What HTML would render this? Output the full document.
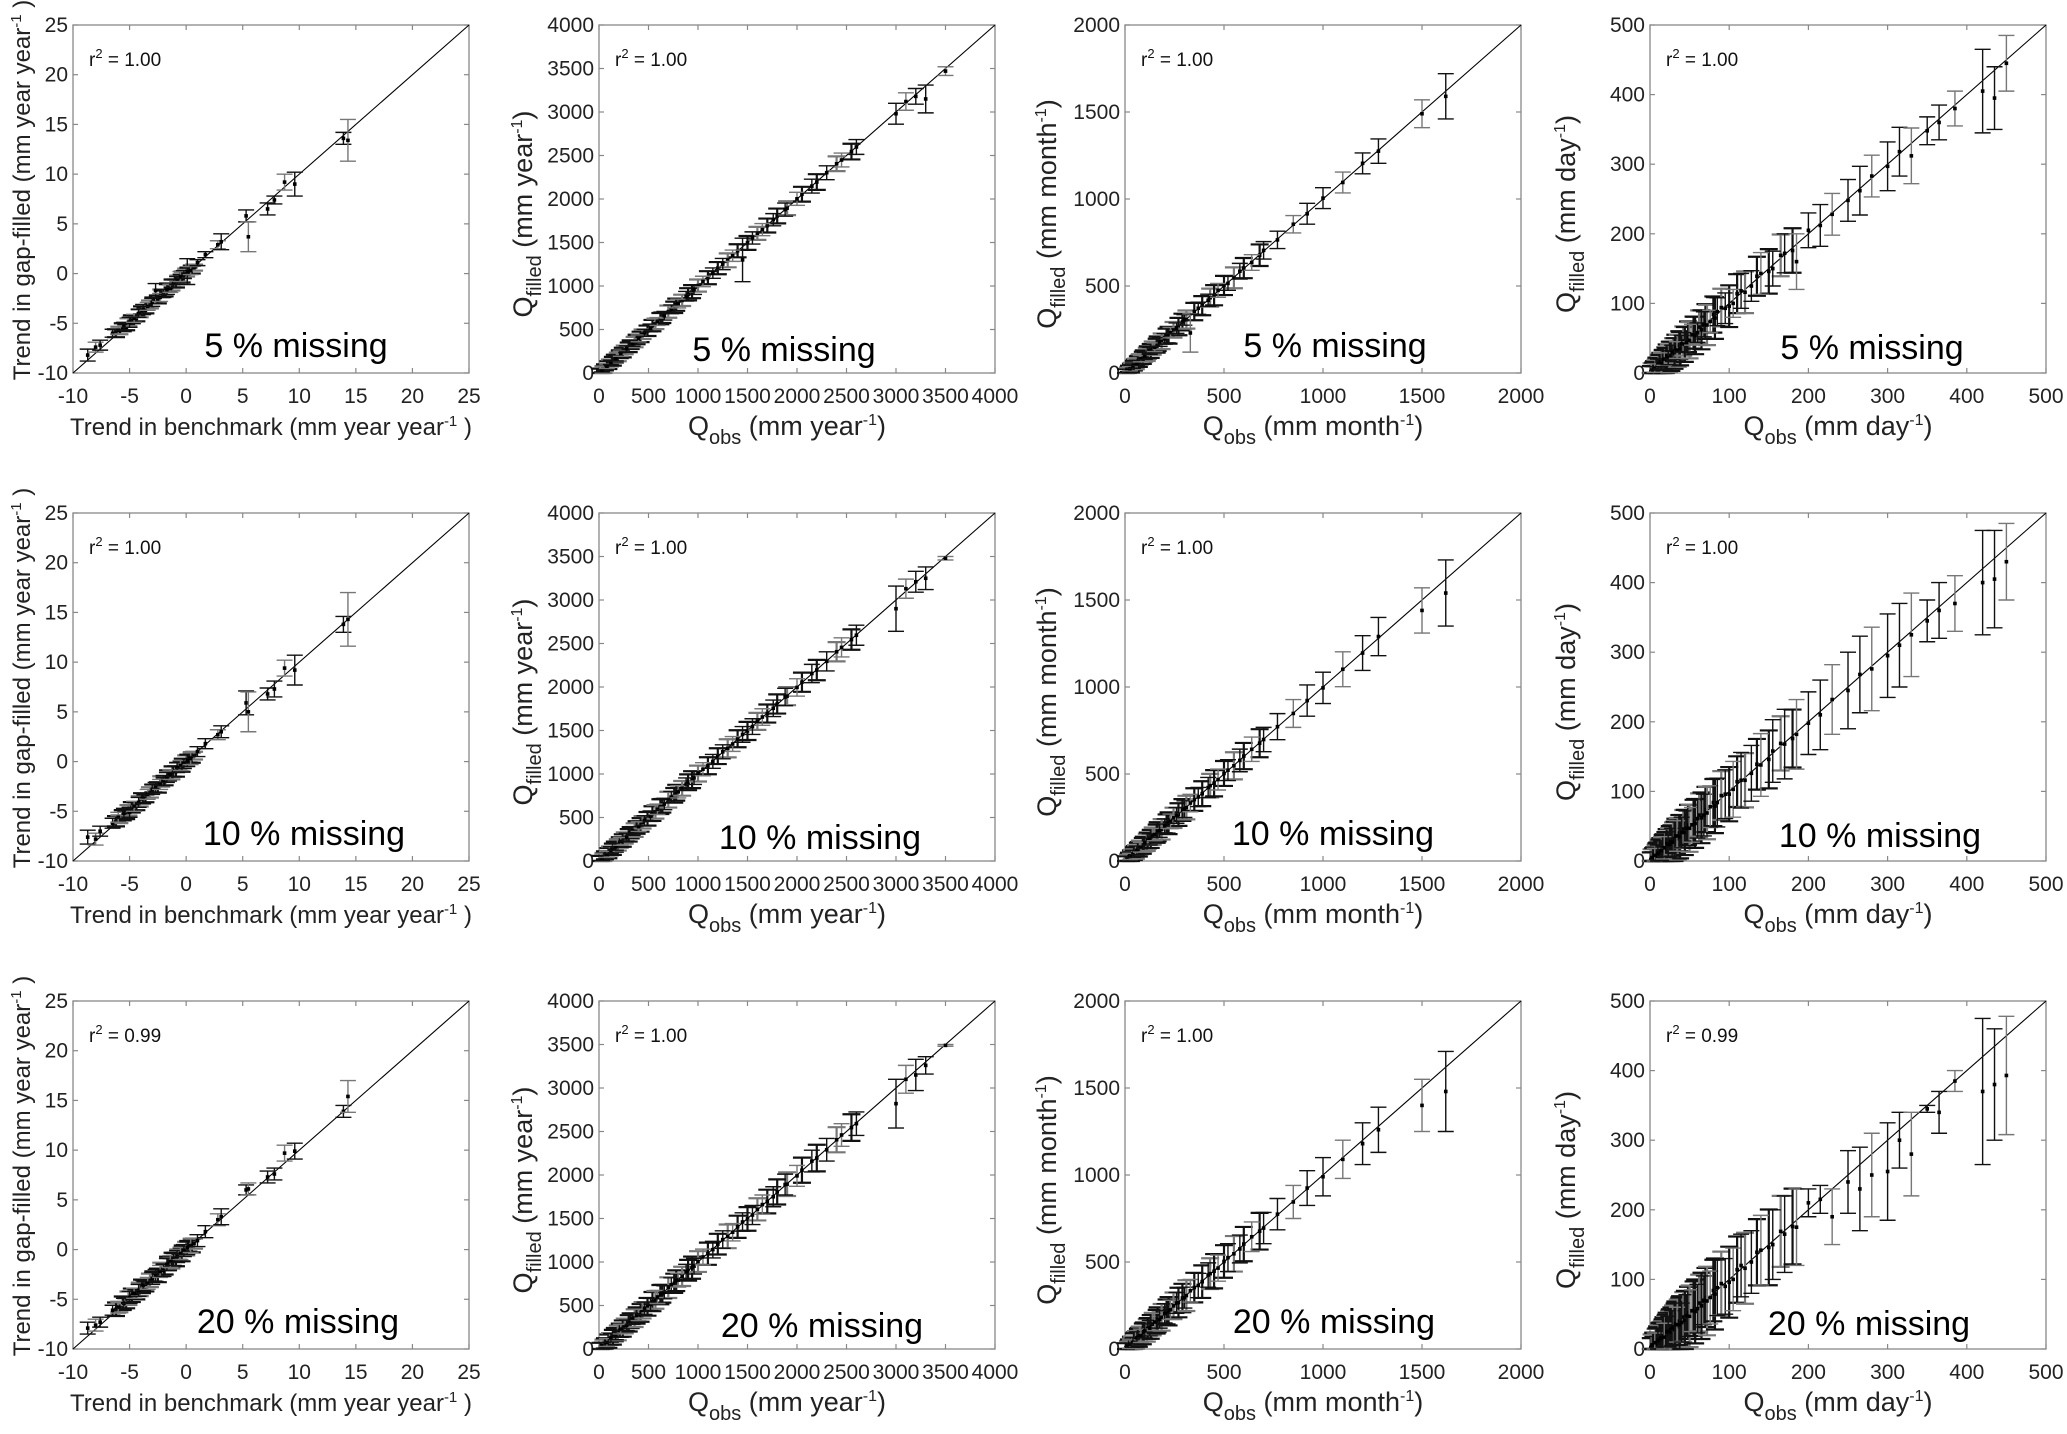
<!DOCTYPE html>
<html><head><meta charset="utf-8"><style>
html,body{margin:0;padding:0;background:#fff;}
svg{display:block;font-family:"Liberation Sans",Arial,sans-serif;}
</style></head><body>
<svg id="fig" width="2067" height="1434" viewBox="0 0 2067 1434"></svg>
<script>
// ---- data ----
const obsA=[-8.7,-8,-7.6,-6.5,-6,-5.5,-5,-4.6,-4.2,-3.8,-3.4,-3,-2.7,-2.3,-2,-1.7,-1.4,-1.1,-0.8,-0.5,-0.2,0.1,0.4,1,1.7,2.8,3.1,5.3,5.5,7.2,7.8,8.7,9.6,13.9,14.3];
const filA1=[-8.2,-7.4,-7.2,-6,-5.7,-5.3,-4.9,-4.5,-4,-3.6,-3.3,-2.9,-1.7,-2.4,-2,-1.6,-1.5,-1,-0.7,-0.3,-0.1,0.2,0.3,1.1,1.9,2.9,3.2,5.8,3.7,6.5,7.4,9.2,9,13.6,13.4];
const errA1=[0.6,0.5,0.5,0.4,0.4,0.4,0.5,0.4,0.4,0.5,0.4,0.4,0.7,0.4,0.4,0.5,0.4,0.4,0.4,0.5,0.4,1.3,0.4,0.3,0.3,0.4,0.8,0.6,1.5,0.6,0.4,0.8,1.2,0.6,2.1];
const filA2=[-7.6,-7.8,-7,-6.2,-5.6,-5.2,-5.1,-4.5,-4.1,-3.7,-3.3,-2.8,-2.6,-2.3,-1.9,-1.6,-1.3,-1,-0.6,-0.4,-0.2,0.1,0.3,1,1.8,2.7,3,5.9,5,6.8,7.3,9.4,9.2,13.8,14.3];
const errA2=[0.7,0.6,0.5,0.5,0.5,0.5,0.5,0.5,0.5,0.5,0.5,0.5,0.5,0.5,0.5,0.5,0.5,0.5,0.5,0.5,0.5,0.6,0.6,0.5,0.5,0.5,0.6,1.2,2,0.6,0.8,0.8,1.5,0.8,2.7];
const filA3=[-7.9,-7.6,-7.3,-6.1,-5.8,-5.4,-4.8,-4.4,-4.1,-3.6,-3.4,-2.9,-2.6,-2.2,-2.1,-1.5,-1.2,-1,-0.7,-0.4,-0.1,0.2,0.4,0.9,1.8,3,3.3,6,6.1,7.3,7.6,9.7,9.9,13.9,15.4];
const errA3=[0.6,0.6,0.5,0.5,0.6,0.5,0.6,0.5,0.6,0.5,0.6,0.6,0.6,0.6,0.6,0.6,0.6,0.6,0.6,0.6,0.6,0.7,0.7,0.6,0.6,0.6,0.8,0.5,0.6,0.6,0.6,0.8,0.8,0.6,1.6];
const denseObsA=[-6.2,-5.9,-5.6,-5.3,-5.1,-4.8,-4.4,-4.1,-3.9,-3.6,-3.2,-2.9,-2.5,-2.2,-1.9,-1.6,-1.3,-1.2,-0.9,-0.7,-0.4,-0.3,0,0.2,0.5,0.7];
const denseFilA=[-6,-5.8,-5.4,-5.4,-4.9,-4.6,-4.5,-4,-3.7,-3.7,-3.1,-2.7,-2.6,-2,-2,-1.4,-1.4,-1,-1,-0.5,-0.5,-0.1,0.1,0.3,0.4,0.6];
const denseErrA=[0.4,0.3,0.4,0.3,0.4,0.4,0.3,0.4,0.4,0.3,0.4,0.3,0.4,0.4,0.3,0.4,0.3,0.4,0.4,0.3,0.4,0.3,0.4,0.3,0.4,0.3];

const obsB=[30,80,120,170,220,280,340,400,460,520,590,660,730,800,880,960,1050,1150,1250,1350,1450,1550,1650,1760,1880,2000,2150,2300,2450,2600,3000,3100,3200,3300,3500];
const filB1=[32,78,122,168,222,278,342,398,462,518,592,658,732,798,882,958,1052,1148,1252,1348,1300,1552,1648,1762,1878,2002,2148,2302,2448,2598,2980,3120,3180,3150,3470];
const errB1=[20,25,25,30,30,35,35,40,40,45,45,50,50,50,55,55,60,60,65,65,250,70,70,70,75,75,80,80,80,85,120,100,90,160,50];
const filB2=[35,76,125,165,225,275,345,395,465,515,595,655,735,795,885,955,1055,1145,1255,1345,1455,1545,1655,1755,1885,1995,2155,2295,2455,2595,2900,3130,3210,3250,3480];
const errB2=[30,35,40,40,45,45,50,55,55,60,60,65,65,70,70,75,75,80,80,85,90,90,95,95,100,100,105,110,110,115,260,110,120,130,20];
const filB3=[38,74,128,162,228,272,348,392,468,512,598,652,738,792,888,952,1058,1142,1258,1342,1460,1540,1660,1750,1890,1990,2160,2290,2460,2590,2820,3100,3150,3260,3490];
const errB3=[40,45,50,55,55,60,65,65,70,70,75,75,80,80,85,90,90,95,100,100,105,110,110,115,120,120,125,130,130,135,280,160,180,100,10];
const denseObsB=[15,45,60,95,110,140,160,190,210,240,260,300,320,360,380,420,440,490,540,570,620,640,700,760,780,840,900,940,1000,1100,1200,1300,1400,1500,1600,1700,1800,1900,2050,2200,2400,2550];
const denseFilB=[20,40,65,90,115,135,165,185,215,235,265,295,325,355,385,415,445,485,545,565,625,635,705,755,785,835,905,935,1005,1095,1205,1295,1405,1495,1605,1695,1805,1895,2055,2195,2405,2545];
const denseErrB=[30,40,35,45,40,50,45,50,45,55,50,55,50,60,55,60,55,60,65,60,65,60,70,65,70,65,70,75,70,75,70,80,75,80,75,80,85,80,85,90,85,90];

const obsC=[10,25,40,60,80,100,125,150,175,200,230,260,300,330,370,420,470,520,580,640,700,770,850,920,1000,1100,1200,1280,1500,1620];
const filC1=[12,24,42,58,82,98,127,148,178,196,232,258,305,230,372,418,475,515,585,635,705,765,855,915,1005,1095,1205,1275,1490,1590];
const errC1=[10,12,15,15,18,20,20,25,25,30,30,30,30,110,35,35,40,40,45,45,50,50,50,60,60,60,60,70,80,130];
const filC2=[11,26,41,61,79,102,124,152,174,202,228,262,298,333,368,422,468,522,578,642,698,772,848,922,995,1102,1195,1290,1440,1540];
const errC2=[15,18,20,25,28,30,32,35,38,40,42,45,48,50,55,58,60,60,65,70,70,75,80,90,90,100,100,110,130,190];
const filC3=[14,28,38,64,76,104,120,155,170,205,225,265,295,335,365,425,465,525,575,645,695,775,845,925,990,1090,1180,1260,1400,1480];
const errC3=[20,25,28,35,38,40,45,50,50,55,55,60,60,65,70,70,75,80,80,85,90,90,95,100,110,110,120,130,150,230];
const denseObsC=[5,15,20,30,35,45,50,55,65,70,75,90,95,110,115,130,140,160,165,185,210,220,245,270,290,310,350,390,430,450,500,550,600,680];
const denseFilC=[8,12,24,28,38,42,53,52,68,67,78,87,98,107,118,127,143,157,168,182,213,217,248,267,293,307,353,387,433,447,503,547,603,677];
const denseErrC=[15,20,18,25,20,28,25,30,28,32,30,35,32,38,35,40,38,40,42,45,42,48,45,50,48,52,50,55,52,58,55,60,58,62];

const obsD=[3,6,10,14,18,23,28,34,40,46,53,60,68,76,85,95,105,115,128,140,155,170,185,200,215,230,250,265,280,300,315,330,350,365,385,420,435,450];
const filD1=[4,7,12,13,20,22,30,33,42,44,55,58,70,74,88,93,100,118,125,143,150,172,160,205,212,228,248,262,283,297,318,312,348,360,380,405,395,445];
const errD1=[5,6,8,7,9,10,10,12,12,14,15,14,18,16,20,22,20,25,22,30,25,28,40,25,30,30,30,35,30,35,35,40,20,25,25,60,45,40];
const filD2=[5,8,11,15,19,24,27,36,41,47,52,61,66,78,84,96,103,116,126,138,158,168,182,198,210,232,245,268,276,295,310,325,345,360,370,400,405,430];
const errD2=[8,10,12,14,16,18,20,22,22,25,25,28,30,30,35,35,40,40,40,45,45,50,50,45,50,50,55,55,60,60,60,60,30,40,40,75,70,55];
const filD3=[6,9,12,16,17,25,30,35,38,48,55,58,70,74,88,90,100,120,125,142,150,165,175,210,215,190,240,230,250,255,300,280,345,340,385,370,380,393];
const errD3=[12,14,18,20,20,22,25,25,28,30,30,35,35,38,40,40,45,45,45,50,50,55,55,20,20,40,45,60,60,70,40,60,5,30,15,105,80,85];
const denseObsD=[1,2,4,5,7,8,9,11,12,13,15,16,17,19,20,21,24,25,27,29,31,32,35,37,38,42,44,48,50,55,57,62,65,70,72,80,82,90,100,110,120,135,150,165,180];
const denseFilD=[2,4,3,8,5,11,7,14,10,16,12,19,15,22,17,25,21,28,24,32,28,36,32,40,35,46,41,52,47,58,54,66,62,74,69,84,79,94,96,114,116,139,146,169,176];
const denseErrD=[8,10,12,9,14,11,15,12,16,13,17,14,18,15,19,16,20,17,21,18,22,19,23,20,24,21,25,22,26,23,27,24,28,25,29,26,30,27,30,28,30,28,32,30,32];

const ticksA=[-10,-5,0,5,10,15,20,25];
const ticksB=[0,500,1000,1500,2000,2500,3000,3500,4000];
const ticksC=[0,500,1000,1500,2000];
const ticksD=[0,100,200,300,400,500];
const r2Labels=[["1.00","1.00","1.00","1.00"],["1.00","1.00","1.00","1.00"],["0.99","1.00","1.00","0.99"]];
const missingLabels=["5 % missing","10 % missing","20 % missing"];

// ---- layout ----
const NS="http://www.w3.org/2000/svg";
const svg=document.getElementById('fig');
const colLeft=[73,599,1125,1650], rowTop=[25,513,1001], W=396, H=348;
const missX=[[296,784,1335,1872],[304,820,1333,1880],[298,822,1334,1869]];
const missDy=[-16,-12,-16,-14];
const types=[
 {ticks:ticksA,obs:obsA,fil:[filA1,filA2,filA3],err:[errA1,errA2,errA3],dObs:denseObsA,dFil:denseFilA,dErr:denseErrA,unit:'A'},
 {ticks:ticksB,obs:obsB,fil:[filB1,filB2,filB3],err:[errB1,errB2,errB3],dObs:denseObsB,dFil:denseFilB,dErr:denseErrB,unit:'year'},
 {ticks:ticksC,obs:obsC,fil:[filC1,filC2,filC3],err:[errC1,errC2,errC3],dObs:denseObsC,dFil:denseFilC,dErr:denseErrC,unit:'month'},
 {ticks:ticksD,obs:obsD,fil:[filD1,filD2,filD3],err:[errD1,errD2,errD3],dObs:denseObsD,dFil:denseFilD,dErr:denseErrD,unit:'day'}];
const ylabX=[30,532,1056,1575];

function mk(tag,attrs,parent){const e=document.createElementNS(NS,tag);for(const k in attrs)e.setAttribute(k,attrs[k]);(parent||svg).appendChild(e);return e;}

for(let r=0;r<3;r++){for(let c=0;c<4;c++){
 const T=types[c], x0=colLeft[c], y0=rowTop[r];
 const lo=T.ticks[0], hi=T.ticks[T.ticks.length-1];
 const sx=v=>x0+(v-lo)/(hi-lo)*W;
 const sy=v=>y0+H-(v-lo)/(hi-lo)*H;
 const g=mk('g',{});
 
 
 const box=mk('rect',{x:x0,y:y0,width:W,height:H,fill:'none',stroke:'#888','stroke-width':1.3},g);
 
 
 T.ticks.forEach(t=>{
  const X=sx(t),Y=sy(t);
  mk('line',{x1:X,y1:y0+H,x2:X,y2:y0+H-5,stroke:'#888','stroke-width':1.2},g);
  mk('line',{x1:X,y1:y0,x2:X,y2:y0+5,stroke:'#888','stroke-width':1.2},g);
  mk('line',{x1:x0,y1:Y,x2:x0+5,y2:Y,stroke:'#888','stroke-width':1.2},g);
  mk('line',{x1:x0+W,y1:Y,x2:x0+W-5,y2:Y,stroke:'#888','stroke-width':1.2},g);
  const xl=mk('text',{x:X,y:y0+H+30,'text-anchor':'middle','font-size':21,fill:'#222'},g);
  xl.textContent=t;
  
  
  const yl=mk('text',{x:x0-5,y:Y+7,'text-anchor':'end','font-size':21,fill:'#222'},g);
  yl.textContent=t;
  
  
 });
 const one=mk('line',{x1:sx(lo),y1:sy(lo),x2:sx(hi),y2:sy(hi),stroke:'#000','stroke-width':1.1},g);
 
 
 function bar(o,f,e,i,sw,cap){
  const X=sx(o), Yc=sy(f), Yt=sy(f+e), Yb=sy(Math.max(lo,f-e));
  const col=(i%3===1)?'#777':'#111';
  const eb=mk('g',{stroke:col,'stroke-width':sw,fill:'none'},g);
  
  
  mk('line',{x1:X,y1:Yt,x2:X,y2:Yb},eb);
  mk('line',{x1:X-cap,y1:Yt,x2:X+cap,y2:Yt},eb);
  mk('line',{x1:X-cap,y1:Yb,x2:X+cap,y2:Yb},eb);
  const pt=mk('rect',{x:X-1.8,y:Yc-1.8,width:3.6,height:3.6,fill:'#000'},g);
  
  
 }
 // dense cluster (errors widen with missing fraction via per-row cap/stroke style only)
 T.dObs.forEach((o,i)=>bar(o,T.dFil[i],T.dErr[i]*(r===0?1:(r===1?1.3:1.7)),i,2.2,9));
 const fil=T.fil[r], err=T.err[r];
 T.obs.forEach((o,i)=>bar(o,fil[i],err[i],i,1.4,8));
 const r2=mk('text',{x:x0+16,y:y0+41,'font-size':19,fill:'#111'},g);
 r2.innerHTML='r<tspan dy="-8" font-size="13">2</tspan><tspan dy="8"> = '+r2Labels[r][c]+'</tspan>';
 
 
 const ml=mk('text',{x:missX[r][c],y:y0+H+missDy[c],'text-anchor':'middle','font-size':34,fill:'#000'},g);
 ml.textContent=missingLabels[r];
 
 
 const cx=x0+W/2, cy=y0+H/2;
 let xt,yt;
 if(c===0){
  xt=mk('text',{x:cx,y:y0+H+62,'text-anchor':'middle','font-size':24,fill:'#222'},g);
  const yy=cy-9;
  yt=mk('text',{x:ylabX[c],y:yy,'text-anchor':'middle','font-size':24,fill:'#222',transform:'rotate(-90 '+ylabX[c]+' '+yy+')'},g);
  xt.innerHTML='Trend in benchmark (mm year year<tspan dy="-9" font-size="15">-1</tspan><tspan dy="9"> )</tspan>';
  yt.innerHTML='Trend in gap-filled (mm year year<tspan dy="-9" font-size="15">-1</tspan><tspan dy="9"> )</tspan>';
 } else {
  xt=mk('text',{x:cx-10,y:y0+H+62,'text-anchor':'middle','font-size':27,fill:'#222'},g);
  const yy=cy+15;
  yt=mk('text',{x:ylabX[c],y:yy,'text-anchor':'middle','font-size':27,fill:'#222',transform:'rotate(-90 '+ylabX[c]+' '+yy+')'},g);
  xt.innerHTML='Q<tspan dy="9" font-size="20">obs</tspan><tspan dy="-9"> (mm '+T.unit+'</tspan><tspan dy="-10" font-size="16">-1</tspan><tspan dy="10">)</tspan>';
  yt.innerHTML='Q<tspan dy="9" font-size="20">filled</tspan><tspan dy="-9"> (mm '+T.unit+'</tspan><tspan dy="-10" font-size="16">-1</tspan><tspan dy="10">)</tspan>';
 }
 
 
 
 
}}
</script>
</body></html>
